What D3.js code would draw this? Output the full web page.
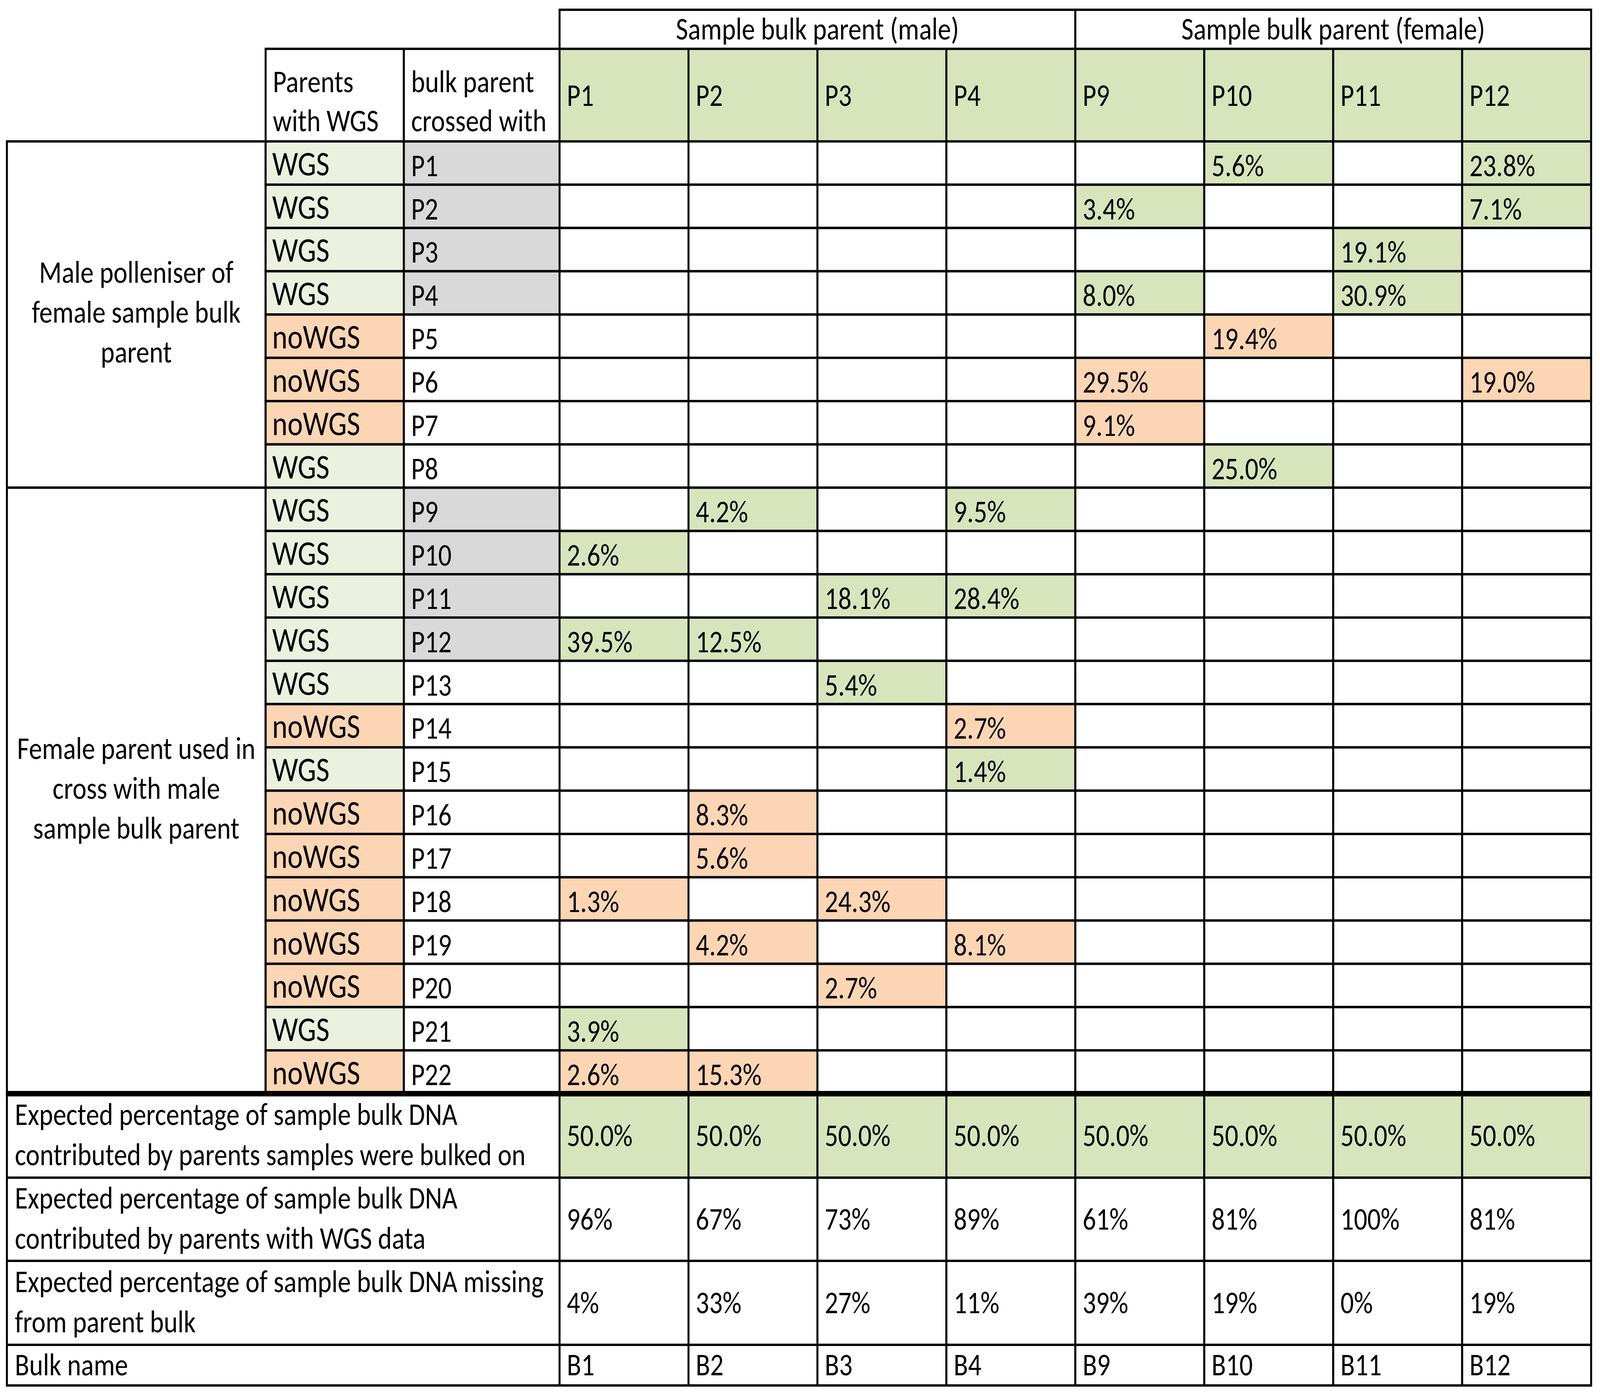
<!DOCTYPE html>
<html>
<head>
<meta charset="utf-8">
<script src="https://cdn.jsdelivr.net/npm/d3@7"></script>
<style>
  html, body { margin: 0; padding: 0; background: #fff; overflow: hidden; width: 100%; height: 100%; }
  #chart { width: 100vw; height: 100vh; }
  svg { display: block; }
  svg text { font-family: Carlito, "Liberation Sans Narrow", "DejaVu Sans Condensed", "Liberation Sans", sans-serif; fill: #000; }
</style>
</head>
<body>
<div id="chart"></div>
<script>
// sample bulk parents (columns)
var maleCols = ["P1", "P2", "P3", "P4"];
var femaleCols = ["P9", "P10", "P11", "P12"];
var sampleCols = maleCols.concat(femaleCols);

// parents used in crosses (rows)
var parentIds = ["P1", "P2", "P3", "P4", "P5", "P6", "P7", "P8", "P9", "P10", "P11",
    "P12", "P13", "P14", "P15", "P16", "P17", "P18", "P19", "P20", "P21", "P22"];
var wgsStatus = ["WGS", "WGS", "WGS", "WGS", "noWGS", "noWGS", "noWGS", "WGS", "WGS", "WGS", "WGS",
    "WGS", "WGS", "noWGS", "WGS", "noWGS", "noWGS", "noWGS", "noWGS", "noWGS", "WGS", "noWGS"];

var groupParents = [parentIds.slice(0, 8), parentIds.slice(8)];
var groupLabels = [["Male polleniser of", "female sample bulk", "parent"],
    ["Female parent used in", "cross with male", "sample bulk parent"]];

// share (%) of each sample bulk contributed by a crossing parent
var contribParent = ["P1", "P1", "P2", "P2", "P3", "P4", "P4", "P5", "P6", "P6", "P7", "P8",
    "P9", "P9", "P10", "P11", "P11", "P12", "P12", "P13", "P14", "P15", "P16", "P17",
    "P18", "P18", "P19", "P19", "P20", "P21", "P22", "P22"];
var contribSample = ["P10", "P12", "P9", "P12", "P11", "P9", "P11", "P10", "P9", "P12", "P9", "P10",
    "P2", "P4", "P1", "P3", "P4", "P1", "P2", "P3", "P4", "P4", "P2", "P2",
    "P1", "P3", "P2", "P4", "P3", "P1", "P1", "P2"];
var contribValue = [5.6, 23.8, 3.4, 7.1, 19.1, 8.0, 30.9, 19.4, 29.5, 19.0, 9.1, 25.0,
    4.2, 9.5, 2.6, 18.1, 28.4, 39.5, 12.5, 5.4, 2.7, 1.4, 8.3, 5.6,
    1.3, 24.3, 4.2, 8.1, 2.7, 3.9, 2.6, 15.3];

// summary rows
var bulkedOnPct = [50.0, 50.0, 50.0, 50.0, 50.0, 50.0, 50.0, 50.0];
var wgsPct = [96, 67, 73, 89, 61, 81, 100, 81];
var missingPct = [4, 33, 27, 11, 39, 19, 0, 19];
var bulkNames = ["B1", "B2", "B3", "B4", "B9", "B10", "B11", "B12"];
var footerLabels = [
    ["Expected percentage of sample bulk DNA", "contributed by parents samples were bulked on"],
    ["Expected percentage of sample bulk DNA", "contributed by parents with WGS data"],
    ["Expected percentage of sample bulk DNA missing", "from parent bulk"],
    ["Bulk name"]];

const W = 4861, H = 3574;
const green = "#D8E4BC", paleGreen = "#EBF1DE", orange = "#FCD5B4", grey = "#D9D9D9";
const lw = 6;
const fs = 80, fsBig = 88;

// column edges
const xGroup = 21, xWgs = 807, xCross = 1227, xData = 1700, xRight = 4834;
// row edges
const yTop = 25, yHead2 = 125, yBody = 362, yBodyEnd = 2800;
const footerEdges = [2800, 3015, 3228, 3443, 3547];

// the drawing is laid out on a 4861x3574 grid and stretched over the window
var svg = d3.select("#chart").append("svg")
    .attr("viewBox", `0 0 ${W} ${H}`)
    .attr("preserveAspectRatio", "none")
    .style("width", "100%")
    .style("height", "100%");
svg.append("rect").attr("width", W).attr("height", H).attr("fill", "#fff");

var x = d3.scaleBand().domain(sampleCols).range([xData, xRight]);
var y = d3.scaleBand().domain(parentIds).range([yBody, yBodyEnd]);

// squeeze text so its width follows the original narrow spreadsheet font
var probe = svg.append("text").attr("font-size", fs).text("Expected percentage of sample bulk DNA missing");
var sx = 1607 / probe.node().getComputedTextLength();
sx = Math.max(0.8, Math.min(1.2, sx));
probe.remove();

var cells = svg.append("g");
var labels = svg.append("g");

function cell(x0, y0, x1, y1, fill) {
    cells.append("rect")
        .attr("x", x0).attr("y", y0)
        .attr("width", x1 - x0).attr("height", y1 - y0)
        .attr("fill", fill || "#fff")
        .attr("stroke", "#000")
        .attr("stroke-width", lw);
}

function label(str, tx, ty, anchor, size) {
    labels.append("text")
        .attr("transform", `translate(${tx},${ty}) scale(${sx},1)`)
        .attr("text-anchor", anchor || "start")
        .attr("font-size", size || fs)
        .text(str);
}

// header row 1
[maleCols, femaleCols].forEach(function(cols, i) {
    var x0 = x(cols[0]), x1 = x(cols[cols.length - 1]) + x.bandwidth();
    cell(x0, yTop, x1, yHead2);
    label(i == 0 ? "Sample bulk parent (male)" : "Sample bulk parent (female)",
        (x0 + x1) / 2, yTop + 76, "middle");
});

// header row 2
var h2c = (yHead2 + yBody) / 2;
cell(xWgs, yHead2, xCross, yBody);
cell(xCross, yHead2, xData, yBody);
label("Parents", xWgs + 22, h2c - 8);
label("with WGS", xWgs + 22, h2c + 92);
label("bulk parent", xCross + 22, h2c - 8);
label("crossed with", xCross + 22, h2c + 92);
sampleCols.forEach(function(c) {
    cell(x(c), yHead2, x(c) + x.bandwidth(), yBody, green);
    label(c, x(c) + 22, h2c + 27);
});

// group label cells
groupParents.forEach(function(g, i) {
    var y0 = y(g[0]), y1 = y(g[g.length - 1]) + y.bandwidth();
    cell(xGroup, y0, xWgs, y1);
    var cy = (y0 + y1) / 2;
    groupLabels[i].forEach(function(t, j) {
        label(t, (xGroup + xWgs) / 2, cy + 21 + (j - 1) * 102, "middle");
    });
});

// body rows
parentIds.forEach(function(p, i) {
    var y0 = y(p), y1 = y0 + y.bandwidth();
    cell(xWgs, y0, xCross, y1, wgsStatus[i] == "WGS" ? paleGreen : orange);
    label(wgsStatus[i], xWgs + 20, y1 - 24, "start", fsBig);
    cell(xCross, y0, xData, y1, sampleCols.indexOf(p) >= 0 ? grey : "#fff");
    label(p, xCross + 22, y1 - 22);
    sampleCols.forEach(function(c) {
        var k = contribParent.findIndex(function(d, j) { return d == p && contribSample[j] == c; });
        var fill = "#fff";
        if (k >= 0) fill = wgsStatus[i] == "WGS" ? green : orange;
        cell(x(c), y0, x(c) + x.bandwidth(), y1, fill);
        if (k >= 0) label(d3.format(".1f")(contribValue[k]) + "%", x(c) + 22, y1 - 22);
    });
});

// footer rows
var footerValues = [
    bulkedOnPct.map(function(v) { return d3.format(".1f")(v) + "%"; }),
    wgsPct.map(function(v) { return v + "%"; }),
    missingPct.map(function(v) { return v + "%"; }),
    bulkNames];
footerLabels.forEach(function(lines, r) {
    var y0 = footerEdges[r], y1 = footerEdges[r + 1], cy = (y0 + y1) / 2;
    cell(xGroup, y0, xData, y1);
    if (lines.length == 1) {
        label(lines[0], xGroup + 24, cy + 26);
    } else {
        label(lines[0], xGroup + 24, cy - 28);
        label(lines[1], xGroup + 24, cy + 75);
    }
    sampleCols.forEach(function(c, j) {
        cell(x(c), y0, x(c) + x.bandwidth(), y1, r == 0 ? green : "#fff");
        label(footerValues[r][j], x(c) + 22, cy + 26);
    });
});

// heavy rule between crosses and summary rows
svg.append("line")
    .attr("x1", xGroup - lw / 2).attr("x2", xRight + lw / 2)
    .attr("y1", yBodyEnd).attr("y2", yBodyEnd)
    .attr("stroke", "#000").attr("stroke-width", 14);

svg.node().appendChild(labels.node());
</script>
</body>
</html>
